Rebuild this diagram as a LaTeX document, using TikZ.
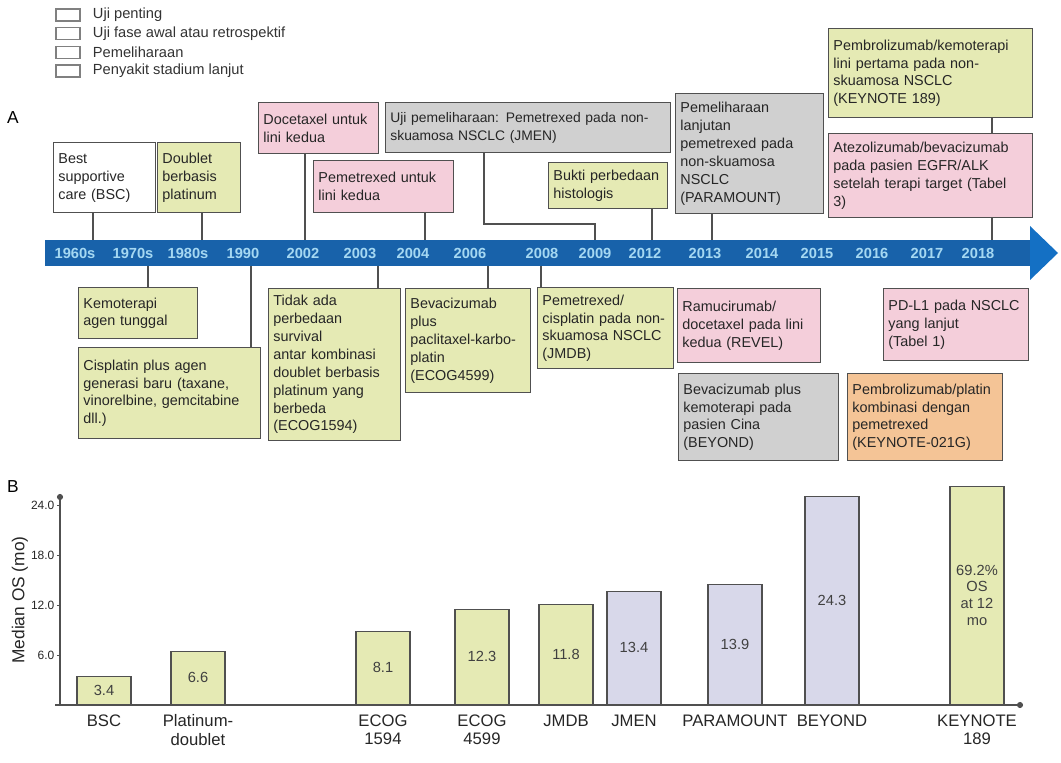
\documentclass[tikz,border=0pt]{standalone}
\usepackage{fontspec}
\setmainfont{Liberation Sans}
\usepackage{tikz}
\usetikzlibrary{positioning,calc}
\definecolor{evGreen}{RGB}{229,234,180}
\definecolor{evPink}{RGB}{244,206,218}
\definecolor{evGray}{RGB}{208,208,208}
\definecolor{evOrange}{RGB}{244,196,150}
\definecolor{barLilac}{RGB}{216,216,234}
\definecolor{lineBlue}{RGB}{24,98,170}
\definecolor{headBlue}{RGB}{20,112,196}
\definecolor{yrText}{RGB}{165,216,242}
\definecolor{inkbox}{RGB}{80,80,80}

\begin{document}
\begin{tikzpicture}[x=0.75pt,y=-0.75pt,
  ev/.style={draw=inkbox,line width=1.1pt,anchor=north west,align=left,inner xsep=3.5pt,inner ysep=2pt,
             font=\fontsize{10.8}{13.4}\selectfont,text=black!85},
  sz/.style 2 args={minimum width=#1*0.75pt,minimum height=#2*0.75pt,text width=#1*0.75pt-7pt},
  cn/.style={draw=inkbox,line width=1.1pt},
  yr/.style={font=\fontsize{11}{12}\selectfont\bfseries,text=yrText},
  lg/.style={draw=gray,fill=white,line width=1pt,minimum width=18pt,minimum height=9pt,inner sep=0pt},
  lgt/.style={font=\fontsize{11}{12}\selectfont,text=black!80,inner sep=0pt},
  bar/.style={draw=inkbox,line width=1.1pt,anchor=south,align=center,inner sep=1pt,
              font=\fontsize{11}{12.5}\selectfont,text=black!75},
  lbl/.style={font=\fontsize{12.5}{14}\selectfont,align=center,text=black!85,inner sep=1pt}]
  \useasboundingbox (0,0) rectangle (1061,763);

  % legend
  \foreach \i/\txt in {0/Uji penting,1/Uji fase awal atau retrospektif,2/Pemeliharaan,3/Penyakit stadium lanjut} {
    \node[lg] (lg\i) at (68,{15+\i*18.7}) {};
    \node[lgt,right=9pt of lg\i] (lgt\i) {\txt};
  }
  \node[font=\fontsize{13}{14}\selectfont] (pA) at (13,118) {A};
  \node[font=\fontsize{13}{14}\selectfont] (pB) at (13,487) {B};

  % timeline
  \fill[lineBlue] (45,240) rectangle (1031,266);
  \fill[headBlue] (1030,226) -- (1058,253) -- (1030,280) -- cycle;
  \foreach \yy/\xx in {1960s/75,1970s/133,1980s/188,1990/243,2002/303,2003/360,2004/413,2006/470,
                       2008/542,2009/595,2012/645,2013/705,2014/762,2015/817,2016/872,2017/927,2018/978}
    \node[yr] (y\yy) at (\xx,253) {\yy};

  % events above
  \node[ev,sz={102}{70}] (tBSC) at (53,142) {Best\\supportive\\care (BSC)};
  \node[ev,sz={83}{70},fill=evGreen] (tDbl) at (157,142) {Doublet\\berbasis\\platinum};
  \node[ev,sz={120}{51},fill=evPink] (tDoc) at (258,102) {Docetaxel untuk\\lini kedua};
  \node[ev,sz={140}{52},fill=evPink] (tPem) at (313,160) {Pemetrexed untuk\\lini kedua};
  \node[ev,sz={285}{50},fill=evGray,font=\fontsize{10.4}{13.4}\selectfont] (tJMEN) at (385,102) {Uji pemeliharaan: Pemetrexed pada non-\\skuamosa NSCLC (JMEN)};
  \node[ev,sz={119}{46},fill=evGreen] (tHist) at (548,162) {Bukti perbedaan\\histologis};
  \node[ev,sz={148}{120},fill=evGray] (tPara) at (675,93) {Pemeliharaan\\lanjutan\\pemetrexed pada\\non-skuamosa\\NSCLC\\(PARAMOUNT)};
  \node[ev,sz={204}{89},fill=evGreen] (tKN) at (828,28) {Pembrolizumab/kemoterapi\\lini pertama pada non-\\skuamosa NSCLC\\(KEYNOTE 189)};
  \node[ev,sz={204}{84},fill=evPink] (tAtz) at (828,133) {Atezolizumab/bevacizumab\\pada pasien EGFR/ALK\\setelah terapi target (Tabel\\3)};

  % events below
  \node[ev,sz={119}{51},fill=evGreen] (bMono) at (78,287) {Kemoterapi\\agen tunggal};
  \node[ev,sz={182}{91},fill=evGreen] (bCis) at (78,347) {Cisplatin plus agen\\generasi baru (taxane,\\vinorelbine, gemcitabine\\dll.)};
  \node[ev,sz={132}{152},fill=evGreen] (bE1594) at (268,288) {Tidak ada\\perbedaan\\survival\\antar kombinasi\\doublet berbasis\\platinum yang\\berbeda\\(ECOG1594)};
  \node[ev,sz={125}{104},fill=evGreen] (bE4599) at (405,288) {Bevacizumab\\plus\\paclitaxel-karbo-\\platin\\(ECOG4599)};
  \node[ev,sz={136}{81},fill=evGreen] (bJMDB) at (537,287) {Pemetrexed/\\cisplatin pada non-\\skuamosa NSCLC\\(JMDB)};
  \node[ev,sz={143}{74},fill=evPink] (bRev) at (677,288) {Ramucirumab/\\docetaxel pada lini\\kedua (REVEL)};
  \node[ev,sz={145}{72},fill=evPink] (bPD) at (883,288) {PD-L1 pada NSCLC\\yang lanjut\\(Tabel 1)};
  \node[ev,sz={160}{87},fill=evGray] (bBey) at (678,373) {Bevacizumab plus\\kemoterapi pada\\pasien Cina\\(BEYOND)};
  \node[ev,sz={155}{87},fill=evOrange] (bK21) at (847,373) {Pembrolizumab/platin\\kombinasi dengan\\pemetrexed\\(KEYNOTE-021G)};

  % connectors to the timeline
  \coordinate (kBSC) at (93,240);
  \coordinate (kDbl) at (202,240);
  \coordinate (kDoc) at (305,240);
  \coordinate (kPem) at (425,240);
  \coordinate (kJMEN) at (595,240);
  \coordinate (kHist) at (652,240);
  \coordinate (kPara) at (712,240);
  \coordinate (kAtz) at (992,240);
  \draw[cn] (tBSC.south -| kBSC) -- (kBSC);
  \draw[cn] (tDbl.south -| kDbl) -- (kDbl);
  \draw[cn] (tDoc.south -| kDoc) -- (kDoc);
  \draw[cn] (tPem.south -| kPem) -- (kPem);
  \draw[cn] (tJMEN.south -| 484,0) |- (595,224) -- (kJMEN);
  \draw[cn] (tHist.south -| kHist) -- (kHist);
  \draw[cn] (tPara.south -| kPara) -- (kPara);
  \draw[cn] (tKN.south -| kAtz) -- (tAtz.north -| kAtz);
  \draw[cn] (tAtz.south -| kAtz) -- (kAtz);

  \coordinate (kMono) at (148,266);
  \coordinate (kCis) at (251,266);
  \coordinate (kE1594) at (378,266);
  \coordinate (kE4599) at (488,266);
  \coordinate (kJMDB) at (541,266);
  \draw[cn] (kMono) -- (bMono.north -| kMono);
  \draw[cn] (kCis) -- (bCis.north -| kCis);
  \draw[cn] (kE1594) -- (bE1594.north -| kE1594);
  \draw[cn] (kE4599) -- (bE4599.north -| kE4599);
  \draw[cn] (kJMDB) -- (bJMDB.north -| kJMDB);

  % median OS bars
  \foreach \nm/\cx/\h/\val/\col/\cat in {
      BSC/104/28/3.4/evGreen/BSC,
      Plat/198/53/6.6/evGreen/{Platinum-\\doublet},
      Ea/383/73/8.1/evGreen/{ECOG\\1594},
      Eb/482/95/12.3/evGreen/{ECOG\\4599},
      JMDB/566/100/11.8/evGreen/JMDB,
      JMEN/634/113/13.4/barLilac/JMEN,
      Para/735/120/13.9/barLilac/PARAMOUNT,
      Bey/832/208/24.3/barLilac/BEYOND,
      KN/977/218/{69.2\%\\OS\\at 12\\mo}/evGreen/{KEYNOTE\\189}} {
    \node[bar,fill=\col,minimum width=54*0.75pt,minimum height=\h*0.75pt] (bar\nm) at (\cx,705) {\val};
    \node[lbl,below=6pt of bar\nm] (cat\nm) {\cat};
  }

  % axes
  \draw[inkbox,line width=1.3pt] (55,705) -- (1020,705);
  \fill[inkbox] (1020,705) circle (2.3pt);
  \draw[inkbox,line width=1.3pt] (60,705) -- (60,497);
  \fill[inkbox] (60,497) circle (2.3pt);
  \foreach \v in {6,12,18,24} {
    \draw[inkbox,line width=0.8pt] (57,{705-\v*8.3}) -- (60,{705-\v*8.3});
    \node[lbl,anchor=east,font=\fontsize{9}{10}\selectfont] (tick\v) at (56,{705-\v*8.3}) {\v.0};
  }
  \node[lbl,rotate=90,font=\fontsize{13}{14}\selectfont] (yax) at (20,600) {Median OS (mo)};
\end{tikzpicture}
\end{document}
